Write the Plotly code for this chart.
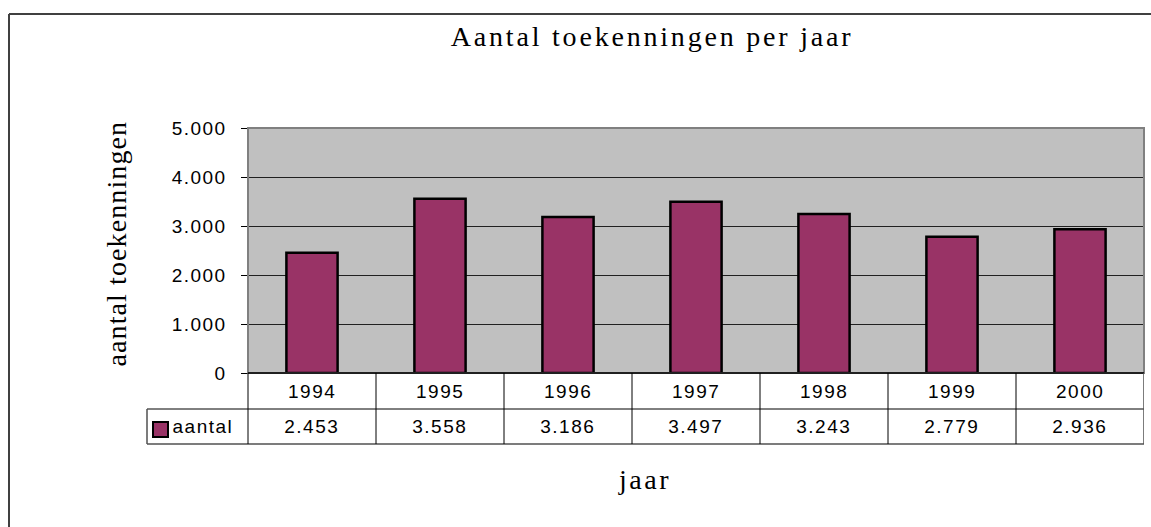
import plotly.graph_objects as go

# ---- data ----
years = [1994, 1995, 1996, 1997, 1998, 1999, 2000]
values = [2453, 3558, 3186, 3497, 3243, 2779, 2936]
y_ticks = [0, 1000, 2000, 3000, 4000, 5000]
title_text = "Aantal toekenningen per jaar"
y_title = "aantal toekenningen"
x_title = "jaar"
series_name = "aantal"

# ---- geometry (pixels) ----
W, H = 1151, 527
PLOT_L, PLOT_R, PLOT_T, PLOT_B = 248, 1144, 128, 373
ROW1_B, ROW2_B, LEG_L = 409, 444, 147

SERIF = "Liberation Serif, Times New Roman, serif"
SANS = "Liberation Sans, Arial, sans-serif"
BAR_COLOR = "#993366"


def px(x):
    return x / W


def py(y):
    return 1 - y / H


def fmt(v):
    return f"{v:,}".replace(",", ".")


fig = go.Figure()
fig.add_trace(go.Bar(
    x=years, y=values, width=0.4,
    marker=dict(color=BAR_COLOR, line=dict(color="black", width=2.5)),
    name=series_name, showlegend=False, hoverinfo="skip",
))

shapes = []
# plot area border (grey top/right)
shapes.append(dict(type="rect", xref="paper", yref="paper",
                   x0=px(PLOT_L), x1=px(PLOT_R), y0=py(PLOT_B), y1=py(PLOT_T),
                   line=dict(color="#808080", width=2), layer="above"))
# horizontal table lines
for yy, col, w in [(PLOT_B, "black", 1.5), (ROW1_B, "black", 1), (ROW2_B, "#505050", 1.5)]:
    x0 = PLOT_L if yy == PLOT_B else LEG_L
    shapes.append(dict(type="line", xref="paper", yref="paper",
                       x0=px(x0), x1=px(PLOT_R), y0=py(yy), y1=py(yy),
                       line=dict(color=col, width=w), layer="above"))
# vertical table lines
shapes.append(dict(type="line", xref="paper", yref="paper",
                   x0=px(LEG_L), x1=px(LEG_L), y0=py(ROW1_B), y1=py(ROW2_B),
                   line=dict(color="#505050", width=1.5)))
shapes.append(dict(type="line", xref="paper", yref="paper",
                   x0=px(PLOT_L), x1=px(PLOT_L), y0=py(PLOT_B), y1=py(ROW2_B),
                   line=dict(color="black", width=1)))
for i, yr in enumerate(years):
    last = i == len(years) - 1
    shapes.append(dict(type="line", xref="x", yref="paper",
                       x0=yr + 0.5, x1=yr + 0.5, y0=py(PLOT_B), y1=py(ROW2_B),
                       line=dict(color="#505050" if last else "black",
                                 width=1.5 if last else 1)))
# legend swatch
shapes.append(dict(type="rect", xref="paper", yref="paper",
                   x0=px(153), x1=px(168), y0=py(437), y1=py(422),
                   fillcolor=BAR_COLOR, line=dict(color="black", width=2)))
# outer chart frame (left + top)
shapes.append(dict(type="line", xref="paper", yref="paper",
                   x0=px(9), x1=px(9), y0=py(14), y1=0,
                   line=dict(color="#404040", width=2)))
shapes.append(dict(type="line", xref="paper", yref="paper",
                   x0=px(9), x1=1, y0=py(14), y1=py(14),
                   line=dict(color="#404040", width=2)))

annotations = []
annotations.append(dict(text=title_text, xref="paper", yref="paper",
                        x=px(652), y=py(37), showarrow=False,
                        xanchor="center", yanchor="middle",
                        font=dict(family=SERIF, size=28, color="black")))
annotations.append(dict(text=y_title, xref="paper", yref="paper",
                        x=px(116), y=py(244), showarrow=False, textangle=-90,
                        xanchor="center", yanchor="middle",
                        font=dict(family=SERIF, size=28, color="black")))
annotations.append(dict(text=x_title, xref="paper", yref="paper",
                        x=px(645), y=py(479), showarrow=False,
                        xanchor="center", yanchor="middle",
                        font=dict(family=SERIF, size=28, color="black")))
for yr, v in zip(years, values):
    annotations.append(dict(text=str(yr), xref="x", yref="paper",
                            x=yr, y=py((PLOT_B + ROW1_B) / 2), showarrow=False,
                            xanchor="center", yanchor="middle",
                            font=dict(family=SANS, size=19, color="black")))
    annotations.append(dict(text=fmt(v), xref="x", yref="paper",
                            x=yr, y=py((ROW1_B + ROW2_B) / 2), showarrow=False,
                            xanchor="center", yanchor="middle",
                            font=dict(family=SANS, size=19, color="black")))
annotations.append(dict(text=series_name, xref="paper", yref="paper",
                        x=px(175), y=py((ROW1_B + ROW2_B) / 2), showarrow=False,
                        xanchor="left", yanchor="middle",
                        font=dict(family=SANS, size=19, color="black")))

fig.update_layout(
    template="none",
    width=W, height=H, autosize=False,
    margin=dict(l=0, r=0, t=0, b=0, pad=0, autoexpand=False),
    paper_bgcolor="white", plot_bgcolor="#C0C0C0",
    showlegend=False, bargap=0.6,
    xaxis=dict(domain=[px(PLOT_L), px(PLOT_R)], range=[years[0] - 0.5, years[-1] + 0.5],
               showticklabels=False, showgrid=False, zeroline=False, showline=False,
               ticks="", fixedrange=True, automargin=False),
    yaxis=dict(domain=[py(PLOT_B), py(PLOT_T)], range=[y_ticks[0], y_ticks[-1]],
               tickvals=y_ticks, ticktext=[fmt(v) for v in y_ticks],
               showgrid=True, gridcolor="#202020", gridwidth=1,
               zeroline=False, showline=True, linecolor="black", linewidth=1.5,
               ticks="outside", ticklen=6, tickcolor="black", tickwidth=1,
               ticklabelstandoff=10, automargin=False,
               tickfont=dict(family=SANS, size=19, color="black"), fixedrange=True),
    shapes=shapes, annotations=annotations,
)

post = """
var gd = document.getElementById('{plot_id}');
var st = document.createElement('style');
st.textContent = 'html,body{margin:0 !important;padding:0 !important;overflow:hidden;}';
document.head.appendChild(st);
document.body.style.margin = '0';
document.body.style.padding = '0';
gd.style.position = 'absolute';
gd.style.left = '0px';
gd.style.top = '0px';
function spacing(){
  gd.querySelectorAll('text').forEach(function(t){
    var s = t.textContent;
    if (s === 'Aantal toekenningen per jaar') { t.style.letterSpacing = '2.8px'; }
    else if (s === 'jaar') { t.style.letterSpacing = '2.5px'; }
    else if (s === 'aantal toekenningen') { t.style.letterSpacing = '1.1px'; }
    else if (/^[0-9.]+$/.test(s) || s === 'aantal') { t.style.letterSpacing = '1.5px'; }
  });
}
spacing();
"""

fig.write_html("out.html", post_script=post, config={"displayModeBar": False, "staticPlot": True})
